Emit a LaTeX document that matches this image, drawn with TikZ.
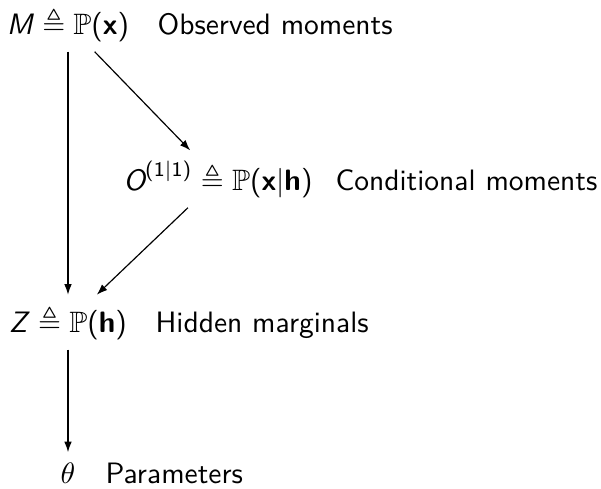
\documentclass[tikz,border=0pt]{standalone}
\usepackage{amsmath,amssymb}
\usetikzlibrary{arrows.meta}
\newcommand{\isf}[1]{\textsf{\textit{#1}}}
\newcommand{\bsf}[1]{\textsf{\textbf{#1}}}
\newcommand{\psf}[1]{\textsf{#1}}
\tikzset{
  mnode/.style={anchor=base, inner sep=3.3pt},
  lab/.style={anchor=base west, inner sep=0pt, font=\sffamily},
  arr/.style={-{Latex[length=3.6pt,width=2.6pt]}, line width=0.4pt}
}
\begin{document}
\begin{tikzpicture}[x=0.339pt, y=-0.339pt]
\useasboundingbox (0,0) rectangle (601,488);
\node[mnode] (M) at (68,34) {$\isf{M} \triangleq \mathbb{P}\psf{(}\bsf{x}\psf{)}$};
\node[lab] (Ml) at (157,34) {Observed moments};
\node[mnode] (O) at (218,190) {$\textsf{\itshape O}^{\psf{(1}|\psf{1)}} \triangleq \mathbb{P}\psf{(}\bsf{x}|\bsf{h}\psf{)}$};
\node[lab] (Ol) at (335,190) {Conditional moments};
\node[mnode] (Z) at (68,332) {$\isf{Z} \triangleq \mathbb{P}\psf{(}\bsf{h}\psf{)}$};
\node[lab] (Zl) at (155,332) {Hidden marginals};
\node[mnode] (T) at (68,483) {$\theta$};
\node[lab] (Tl) at (105,483) {Parameters};
\draw[arr] (M) -- (O);
\draw[arr] (M) -- (Z);
\draw[arr] (O) -- (Z);
\draw[arr] (Z) -- (T);
\end{tikzpicture}
\end{document}
